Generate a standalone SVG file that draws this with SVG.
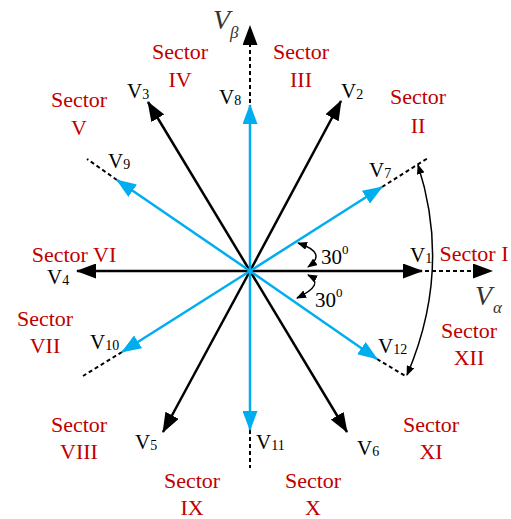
<svg xmlns="http://www.w3.org/2000/svg" width="511" height="519" viewBox="0 0 511 519" font-family="'Liberation Serif', 'Times New Roman', 'DejaVu Serif', serif">
<defs>
<style>
.blk{stroke:#000;stroke-width:2.5;fill:none}
.blu{stroke:#00AEEF;stroke-width:2.5;fill:none}
.dsh{stroke:#000;stroke-width:2;stroke-dasharray:4 3;fill:none}
.thin{stroke:#000;stroke-width:1.5;fill:none}
.sec{font-size:22px;fill:#C00000;text-anchor:middle}
.lbl{font-size:21px;fill:#000}
.sub{font-size:14px}
.ax{font-style:italic;fill:#333}
</style>
<marker id="ab" markerUnits="userSpaceOnUse" markerWidth="20" markerHeight="15" refX="19" refY="7.5" orient="auto"><path d="M0,0 L20,7.5 L0,15 z" fill="#000"/></marker>
<marker id="ac" markerUnits="userSpaceOnUse" markerWidth="20" markerHeight="15" refX="19" refY="7.5" orient="auto"><path d="M0,0 L20,7.5 L0,15 z" fill="#00AEEF"/></marker>
<marker id="as" markerUnits="userSpaceOnUse" markerWidth="10" markerHeight="8" refX="9" refY="4" orient="auto-start-reverse"><path d="M0,0 L10,4 L0,8 z" fill="#000"/></marker>
</defs>
<g id="connectors">
<line class="dsh" x1="250" y1="271" x2="478" y2="271"/>
<line x1="470" y1="271" x2="492" y2="271" stroke="#000" stroke-width="0.01" marker-end="url(#ab)"/>
<line class="dsh" x1="250" y1="271" x2="250" y2="44"/>
<line x1="250" y1="50" x2="250" y2="26" stroke="#000" stroke-width="0.01" marker-end="url(#ab)"/>
<line class="dsh" x1="382" y1="187" x2="428" y2="158"/>
<line class="dsh" x1="117" y1="180" x2="87" y2="159"/>
<line class="dsh" x1="122" y1="352" x2="83" y2="376"/>
<line class="dsh" x1="250" y1="430" x2="250" y2="468"/>
<line class="dsh" x1="377" y1="359" x2="407" y2="377"/>
<path class="thin" d="M298,243 Q328,253 308,267" marker-start="url(#as)" marker-end="url(#as)"/>
<path class="thin" d="M308,275 Q326,284 297,298" marker-start="url(#as)" marker-end="url(#as)"/>
<path class="thin" d="M418,165 Q452,270 407,375" marker-start="url(#as)" marker-end="url(#as)"/>
</g>
<g id="V1"><line class="blk" x1="250" y1="271" x2="422" y2="271" marker-end="url(#ab)"/><text class="lbl" x="410" y="262">V<tspan class="sub" dy="1">1</tspan></text></g>
<g id="V2"><line class="blk" x1="250" y1="271" x2="341" y2="101" marker-end="url(#ab)"/><text class="lbl" x="341" y="98">V<tspan class="sub" dy="1">2</tspan></text></g>
<g id="V3"><line class="blk" x1="250" y1="271" x2="148" y2="102" marker-end="url(#ab)"/><text class="lbl" x="127" y="98">V<tspan class="sub" dy="1">3</tspan></text></g>
<g id="V4"><line class="blk" x1="250" y1="271" x2="77" y2="271" marker-end="url(#ab)"/><text class="lbl" x="47" y="284">V<tspan class="sub" dy="1">4</tspan></text></g>
<g id="V5"><line class="blk" x1="250" y1="271" x2="163" y2="432" marker-end="url(#ab)"/><text class="lbl" x="135" y="449">V<tspan class="sub" dy="1">5</tspan></text></g>
<g id="V6"><line class="blk" x1="250" y1="271" x2="347" y2="432" marker-end="url(#ab)"/><text class="lbl" x="357" y="455">V<tspan class="sub" dy="1">6</tspan></text></g>
<g id="V7"><line class="blu" x1="250" y1="271" x2="382" y2="187" marker-end="url(#ac)"/><text class="lbl" x="369" y="177">V<tspan class="sub" dy="1">7</tspan></text></g>
<g id="V8"><line class="blu" x1="250" y1="271" x2="250" y2="105" marker-end="url(#ac)"/><text class="lbl" x="219" y="104">V<tspan class="sub" dy="1">8</tspan></text></g>
<g id="V9"><line class="blu" x1="250" y1="271" x2="117" y2="180" marker-end="url(#ac)"/><text class="lbl" x="108" y="168">V<tspan class="sub" dy="1">9</tspan></text></g>
<g id="V10"><line class="blu" x1="250" y1="271" x2="122" y2="352" marker-end="url(#ac)"/><text class="lbl" x="90" y="349">V<tspan class="sub" dy="1">10</tspan></text></g>
<g id="V11"><line class="blu" x1="250" y1="271" x2="250" y2="430" marker-end="url(#ac)"/><text class="lbl" x="256" y="449">V<tspan class="sub" dy="1">11</tspan></text></g>
<g id="V12"><line class="blu" x1="250" y1="271" x2="377" y2="359" marker-end="url(#ac)"/><text class="lbl" x="378" y="353">V<tspan class="sub" dy="1">12</tspan></text></g>
<g id="axes">
<text class="ax" x="213" y="29" font-size="28">V</text>
<text class="ax" x="230" y="38" font-size="17">β</text>
<text class="ax" x="475" y="305" font-size="28">V</text>
<text class="ax" x="493" y="313" font-size="17">α</text>
</g>
<g id="angles">
<text class="lbl" x="321" y="264">30<tspan font-size="13" dy="-10">0</tspan></text>
<text class="lbl" x="315" y="307">30<tspan font-size="13" dy="-10">0</tspan></text>
</g>
<g id="sectors">
<text class="sec" x="474" y="261">Sector I</text>
<text class="sec" x="418" y="104">Sector</text><text class="sec" x="418" y="133">II</text>
<text class="sec" x="301" y="59">Sector</text><text class="sec" x="301" y="87">III</text>
<text class="sec" x="180" y="59">Sector</text><text class="sec" x="180" y="87">IV</text>
<text class="sec" x="79" y="107">Sector</text><text class="sec" x="79" y="135">V</text>
<text class="sec" x="74" y="262">Sector VI</text>
<text class="sec" x="45" y="326">Sector</text><text class="sec" x="45" y="353">VII</text>
<text class="sec" x="79" y="432">Sector</text><text class="sec" x="79" y="459">VIII</text>
<text class="sec" x="192" y="488">Sector</text><text class="sec" x="192" y="515">IX</text>
<text class="sec" x="313" y="488">Sector</text><text class="sec" x="313" y="515">X</text>
<text class="sec" x="431" y="432">Sector</text><text class="sec" x="431" y="459">XI</text>
<text class="sec" x="469" y="338">Sector</text><text class="sec" x="469" y="365">XII</text>
</g>
</svg>
